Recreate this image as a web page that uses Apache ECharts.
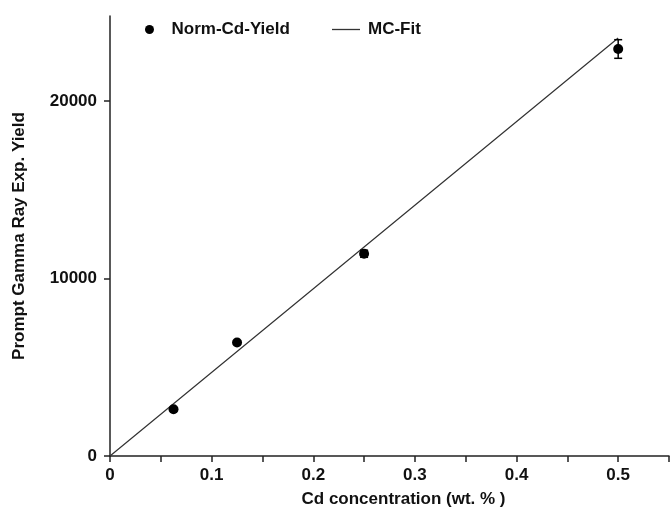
<!DOCTYPE html>
<html>
<head>
<meta charset="utf-8">
<script src="https://cdn.jsdelivr.net/npm/echarts@6/dist/echarts.min.js"></script>
<style>
  html, body { margin: 0; padding: 0; background: #fff; }
  #chart { width: 670px; height: 513px; }
</style>
</head>
<body>
<div id="chart"></div>
<script>
// Measured prompt gamma-ray yield vs. Cd concentration
const concentration = [0.0625, 0.125, 0.25, 0.5];
const normYield = [2640, 6400, 11400, 22940];
const yieldError = [80, 80, 200, 525];

// Monte Carlo fit curve
const fitConcentration = [0, 0.0625, 0.125, 0.25, 0.5];
const fitYield = [0, 2945, 5890, 11780, 23560];

// Axis tick positions and labels
const xTickValues = [0, 0.05, 0.1, 0.15, 0.2, 0.25, 0.3, 0.35, 0.4, 0.45, 0.5, 0.55];
const xLabelValues = [0, 0.1, 0.2, 0.3, 0.4, 0.5];
const yTickValues = [0, 10000, 20000];

const FONT = '"Liberation Sans", Arial, sans-serif';
const INK = '#111';
const legendText = { fontFamily: FONT, fontWeight: 'bold', fontSize: 17, color: INK, padding: [0, 0, 0, 3] };

const chart = echarts.init(document.getElementById('chart'), null, { renderer: 'canvas' });

const pointData = concentration.map((c, i) => [c, normYield[i]]);
const errorData = concentration.map((c, i) => [c, normYield[i] - yieldError[i], normYield[i] + yieldError[i]]);
const fitData = fitConcentration.map((c, i) => [c, fitYield[i]]);

chart.setOption({
  animation: false,
  backgroundColor: '#fff',
  grid: { left: 110, right: 1, top: 16, bottom: 57 },
  legend: [
    {
      left: 140,
      top: 16,
      itemWidth: 28,
      itemHeight: 9,
      textStyle: legendText,
      itemStyle: { opacity: 1 },
      data: [{ name: 'Norm-Cd-Yield', icon: 'circle' }]
    },
    {
      left: 327,
      top: 16,
      itemWidth: 28,
      itemHeight: 1.3,
      textStyle: legendText,
      data: [{ name: 'MC-Fit', icon: 'rect' }]
    }
  ],
  xAxis: {
    type: 'value',
    min: 0,
    max: 0.55,
    name: 'Cd concentration (wt. % )',
    nameLocation: 'middle',
    nameGap: 35,
    nameTextStyle: { fontFamily: FONT, fontWeight: 'bold', fontSize: 17, color: INK, padding: [0, 0, 0, 28] },
    splitLine: { show: false },
    axisLine: { lineStyle: { color: '#222', width: 1.5 } },
    axisTick: { show: true, inside: false, length: 6, customValues: xTickValues, lineStyle: { color: '#222', width: 1.5 } },
    axisLabel: {
      customValues: xLabelValues,
      margin: 11,
      fontFamily: FONT, fontWeight: 'bold', fontSize: 17, color: INK,
      formatter: v => String(v)
    }
  },
  yAxis: {
    type: 'value',
    min: 0,
    max: 24800,
    name: 'Prompt Gamma Ray Exp. Yield',
    nameLocation: 'middle',
    nameGap: 82,
    nameTextStyle: { fontFamily: FONT, fontWeight: 'bold', fontSize: 17, color: INK },
    splitLine: { show: false },
    axisLine: { show: true, lineStyle: { color: '#222', width: 1.5 } },
    axisTick: { show: true, inside: false, length: 6, customValues: yTickValues, lineStyle: { color: '#222', width: 1.5 } },
    axisLabel: {
      customValues: yTickValues,
      margin: 13,
      fontFamily: FONT, fontWeight: 'bold', fontSize: 17, color: INK,
      formatter: v => String(v)
    }
  },
  series: [
    {
      name: 'Norm-Cd-Yield',
      type: 'scatter',
      data: pointData,
      symbol: 'circle',
      symbolSize: 10,
      itemStyle: { color: '#000', opacity: 1 },
      z: 4
    },
    {
      name: 'Norm-Cd-Yield',
      type: 'custom',
      data: errorData,
      z: 3,
      renderItem: function (params, api) {
        const x = api.value(0);
        const lo = api.coord([x, api.value(1)]);
        const hi = api.coord([x, api.value(2)]);
        const cap = 4;
        const style = { stroke: '#000', lineWidth: 1.5 };
        return {
          type: 'group',
          children: [
            { type: 'line', shape: { x1: lo[0], y1: lo[1], x2: hi[0], y2: hi[1] }, style },
            { type: 'line', shape: { x1: lo[0] - cap, y1: lo[1], x2: lo[0] + cap, y2: lo[1] }, style },
            { type: 'line', shape: { x1: hi[0] - cap, y1: hi[1], x2: hi[0] + cap, y2: hi[1] }, style }
          ]
        };
      }
    },
    {
      name: 'MC-Fit',
      type: 'line',
      data: fitData,
      symbol: 'none',
      showSymbol: false,
      lineStyle: { color: '#333', width: 1.2 },
      itemStyle: { color: '#333' },
      z: 2
    }
  ]
});
</script>
</body>
</html>
